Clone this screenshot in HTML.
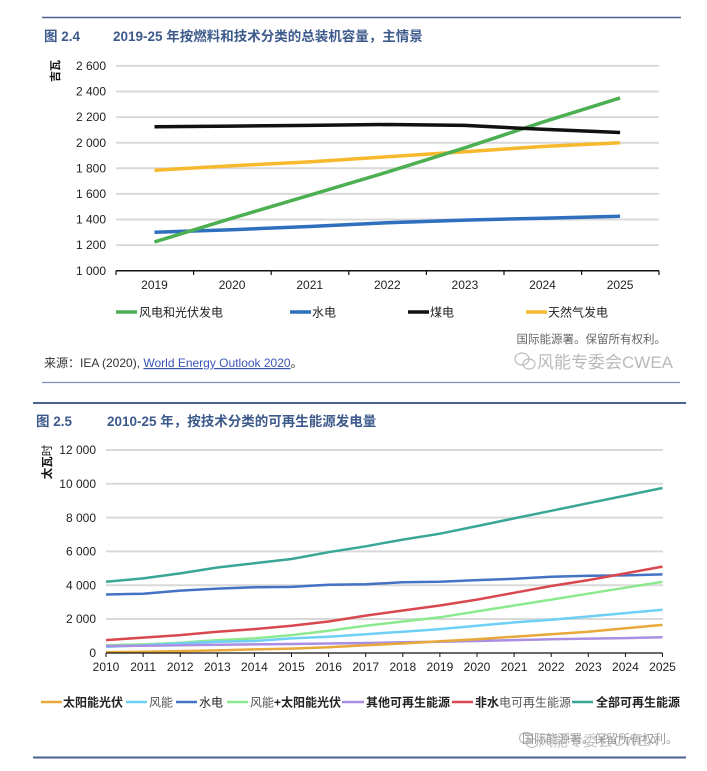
<!DOCTYPE html>
<html>
<head>
<meta charset="utf-8">
<style>
html,body{margin:0;padding:0;background:#fff;}
svg{display:block;}
.cj{font-family:"Liberation Sans","Noto Sans CJK SC",sans-serif;}
.num{font-family:"Liberation Sans",sans-serif;font-size:12px;fill:#222;}
</style>
</head>
<body>
<svg width="707" height="771" viewBox="0 0 707 771" xmlns="http://www.w3.org/2000/svg">
<rect width="707" height="771" fill="#fff"/>

<!-- ===== Chart 1 ===== -->
<line x1="42" y1="17.5" x2="681" y2="17.5" stroke="#4b6190" stroke-width="1.5"/>
<text class="cj" x="44" y="41" font-size="13.5" fill="#3d5a8c" font-weight="bold">图 2.4</text>
<text class="cj" x="113" y="41" font-size="13.5" fill="#3d5a8c" font-weight="bold">2019-25 年按燃料和技术分类的总装机容量，主情景</text>

<text class="cj" transform="translate(59,71) rotate(-90)" font-size="11" fill="#111" text-anchor="middle" font-weight="bold">吉瓦</text>

<g stroke="#d9d9d9" stroke-width="2">
<line x1="116" y1="65.9" x2="659" y2="65.9"/>
<line x1="116" y1="91.5" x2="659" y2="91.5"/>
<line x1="116" y1="117.1" x2="659" y2="117.1"/>
<line x1="116" y1="142.7" x2="659" y2="142.7"/>
<line x1="116" y1="168.3" x2="659" y2="168.3"/>
<line x1="116" y1="193.9" x2="659" y2="193.9"/>
<line x1="116" y1="219.5" x2="659" y2="219.5"/>
<line x1="116" y1="245.1" x2="659" y2="245.1"/>
</g>
<g class="num" text-anchor="end">
<text x="106" y="70">2 600</text>
<text x="106" y="95.6">2 400</text>
<text x="106" y="121.2">2 200</text>
<text x="106" y="146.8">2 000</text>
<text x="106" y="172.4">1 800</text>
<text x="106" y="198">1 600</text>
<text x="106" y="223.6">1 400</text>
<text x="106" y="249.2">1 200</text>
<text x="106" y="274.8">1 000</text>
</g>
<line x1="116" y1="270.7" x2="659" y2="270.7" stroke="#111" stroke-width="1.5"/>
<g stroke="#111" stroke-width="1.2">
<line x1="116" y1="270.7" x2="116" y2="275"/>
<line x1="193.6" y1="270.7" x2="193.6" y2="275"/>
<line x1="271.2" y1="270.7" x2="271.2" y2="275"/>
<line x1="348.8" y1="270.7" x2="348.8" y2="275"/>
<line x1="426.4" y1="270.7" x2="426.4" y2="275"/>
<line x1="504" y1="270.7" x2="504" y2="275"/>
<line x1="581.6" y1="270.7" x2="581.6" y2="275"/>
<line x1="659" y1="270.7" x2="659" y2="275"/>
</g>
<g class="num" text-anchor="middle">
<text x="154.5" y="289">2019</text>
<text x="232.1" y="289">2020</text>
<text x="309.7" y="289">2021</text>
<text x="387.3" y="289">2022</text>
<text x="464.9" y="289">2023</text>
<text x="542.5" y="289">2024</text>
<text x="620.1" y="289">2025</text>
</g>
<g fill="none" stroke-width="3.5" stroke-linejoin="round">
<polyline stroke="#f6b92e" points="154.5,170.2 232.1,165.7 309.7,161.9 387.3,156.8 464.9,151.7 542.5,146.5 620.1,142.7"/>
<polyline stroke="#2e6fbe" points="154.5,232.3 232.1,229.7 309.7,226.5 387.3,222.7 464.9,220.1 542.5,218.2 620.1,216.3"/>
<polyline stroke="#4caf52" points="154.5,241.9 232.1,218.2 309.7,195.2 387.3,172.1 464.9,147.8 542.5,122.2 620.1,97.9"/>
<polyline stroke="#111" points="154.5,126.7 232.1,126.1 309.7,125.4 387.3,124.5 464.9,125.4 542.5,129.3 620.1,132.5"/>
</g>

<!-- legend 1 -->
<g stroke-width="3.5">
<line x1="116" y1="312" x2="137" y2="312" stroke="#4caf52"/>
<line x1="290" y1="312" x2="311" y2="312" stroke="#2e6fbe"/>
<line x1="408" y1="312" x2="429" y2="312" stroke="#111"/>
<line x1="526" y1="312" x2="547" y2="312" stroke="#f6b92e"/>
</g>
<g class="cj" font-size="12" fill="#222">
<text x="139" y="316.5">风电和光伏发电</text>
<text x="312" y="316.5">水电</text>
<text x="430" y="316.5">煤电</text>
<text x="548" y="316.5">天然气发电</text>
</g>

<text class="cj" x="666" y="343" font-size="11.5" fill="#666" text-anchor="end">国际能源署。保留所有权利。</text>
<text class="cj" x="44" y="367" font-size="12" fill="#333">来源：IEA (2020), <tspan fill="#3a55b8" text-decoration="underline">World Energy Outlook 2020</tspan>。</text>

<!-- watermark 1 -->
<g fill="none" stroke="#bdbdbd" stroke-width="1.2">
<ellipse cx="522" cy="359" rx="7" ry="6"/>
<ellipse cx="529" cy="364" rx="6" ry="5"/>
</g>
<text class="cj" x="537" y="368" font-size="17" fill="#b9b9b9">风能专委会CWEA</text>

<line x1="42" y1="382.5" x2="680" y2="382.5" stroke="#7d8fbb" stroke-width="1.2"/>

<!-- ===== Chart 2 ===== -->
<line x1="33" y1="403" x2="686" y2="403" stroke="#4b6190" stroke-width="2"/>
<text class="cj" x="36" y="426" font-size="13.5" fill="#3d5a8c" font-weight="bold">图 2.5</text>
<text class="cj" x="107" y="426" font-size="13.5" fill="#3d5a8c" font-weight="bold">2010-25 年，按技术分类的可再生能源发电量</text>

<text class="cj" transform="translate(51,462) rotate(-90)" font-size="11.5" fill="#111" text-anchor="middle" font-weight="bold">太瓦<tspan font-weight="normal">时</tspan></text>

<g stroke="#d9d9d9" stroke-width="2">
<line x1="106" y1="450" x2="663" y2="450"/>
<line x1="106" y1="483.8" x2="663" y2="483.8"/>
<line x1="106" y1="517.6" x2="663" y2="517.6"/>
<line x1="106" y1="551.4" x2="663" y2="551.4"/>
<line x1="106" y1="585.2" x2="663" y2="585.2"/>
<line x1="106" y1="619" x2="663" y2="619"/>
</g>
<g class="num" text-anchor="end">
<text x="96" y="454.2">12 000</text>
<text x="96" y="488">10 000</text>
<text x="96" y="521.8">8 000</text>
<text x="96" y="555.6">6 000</text>
<text x="96" y="589.4">4 000</text>
<text x="96" y="623.2">2 000</text>
<text x="96" y="657">0</text>
</g>

<g fill="none" stroke-width="2.5" stroke-linejoin="round">
<polyline stroke="#3aa796" points="106,581.8 143.1,578.4 180.2,573.4 217.3,567.5 254.4,563.2 291.5,559 328.6,552.2 365.7,546.3 402.8,539.6 439.9,533.7 477,526.1 514.1,518.4 551.2,510.8 588.3,503.2 625.4,495.6 662.5,488"/>
<polyline stroke="#4472c4" points="106,594.5 143.1,593.7 180.2,590.6 217.3,588.6 254.4,587.2 291.5,586.9 328.6,584.7 365.7,584.3 402.8,582.3 439.9,581.8 477,580.1 514.1,578.8 551.2,576.8 588.3,575.7 625.4,575.4 662.5,574.4"/>
<polyline stroke="#d9474f" points="106,640.1 143.1,637.6 180.2,635.1 217.3,631.7 254.4,629.1 291.5,625.8 328.6,621.5 365.7,615.6 402.8,610.5 439.9,605.5 477,599.6 514.1,592.8 551.2,586 588.3,580.1 625.4,573.4 662.5,566.6"/>
<polyline stroke="#8de98f" points="106,645.2 143.1,644.4 180.2,642.7 217.3,640.1 254.4,638.4 291.5,635.1 328.6,630.8 365.7,625.8 402.8,621.5 439.9,617.3 477,611.4 514.1,605.5 551.2,599.6 588.3,593.7 625.4,587.7 662.5,581.8"/>
<polyline stroke="#6fcff4" points="106,646.9 143.1,645.2 180.2,643.5 217.3,641.8 254.4,641 291.5,638.4 328.6,636.7 365.7,634.2 402.8,631.7 439.9,629.1 477,625.8 514.1,622.4 551.2,619.8 588.3,616.5 625.4,613.1 662.5,609.7"/>
<polyline stroke="#a98ee2" points="106,646 143.1,645.7 180.2,645.2 217.3,644.7 254.4,644.4 291.5,644 328.6,643.5 365.7,643 402.8,642.3 439.9,641.8 477,641 514.1,640.1 551.2,639.3 588.3,638.6 625.4,638.1 662.5,637.3"/>
<polyline stroke="#e8a83a" points="106,652.3 143.1,651.8 180.2,651.1 217.3,650.4 254.4,649.4 291.5,648.6 328.6,647.2 365.7,645.2 402.8,643.5 439.9,641.3 477,639.3 514.1,636.7 551.2,634.2 588.3,631.7 625.4,628.3 662.5,624.9"/>
</g>

<line x1="106" y1="653" x2="662.5" y2="653" stroke="#111" stroke-width="1.3"/>
<g stroke="#111" stroke-width="1">
<line x1="106" y1="653" x2="106" y2="657"/><line x1="143.1" y1="653" x2="143.1" y2="657"/>
<line x1="180.2" y1="653" x2="180.2" y2="657"/><line x1="217.3" y1="653" x2="217.3" y2="657"/>
<line x1="254.4" y1="653" x2="254.4" y2="657"/><line x1="291.5" y1="653" x2="291.5" y2="657"/>
<line x1="328.6" y1="653" x2="328.6" y2="657"/><line x1="365.7" y1="653" x2="365.7" y2="657"/>
<line x1="402.8" y1="653" x2="402.8" y2="657"/><line x1="439.9" y1="653" x2="439.9" y2="657"/>
<line x1="477" y1="653" x2="477" y2="657"/><line x1="514.1" y1="653" x2="514.1" y2="657"/>
<line x1="551.2" y1="653" x2="551.2" y2="657"/><line x1="588.3" y1="653" x2="588.3" y2="657"/>
<line x1="625.4" y1="653" x2="625.4" y2="657"/><line x1="662.5" y1="653" x2="662.5" y2="657"/>
</g>
<g class="num" text-anchor="middle">
<text x="106" y="671">2010</text><text x="143.1" y="671">2011</text>
<text x="180.2" y="671">2012</text><text x="217.3" y="671">2013</text>
<text x="254.4" y="671">2014</text><text x="291.5" y="671">2015</text>
<text x="328.6" y="671">2016</text><text x="365.7" y="671">2017</text>
<text x="402.8" y="671">2018</text><text x="439.9" y="671">2019</text>
<text x="477" y="671">2020</text><text x="514.1" y="671">2021</text>
<text x="551.2" y="671">2022</text><text x="588.3" y="671">2023</text>
<text x="625.4" y="671">2024</text><text x="662.5" y="671">2025</text>
</g>

<!-- legend 2 -->
<g stroke-width="2.5">
<line x1="41" y1="702" x2="62" y2="702" stroke="#e8a83a"/>
<line x1="126" y1="702" x2="147" y2="702" stroke="#6fcff4"/>
<line x1="176" y1="702" x2="197" y2="702" stroke="#4472c4"/>
<line x1="227" y1="702" x2="248" y2="702" stroke="#8de98f"/>
<line x1="342" y1="702" x2="364" y2="702" stroke="#a98ee2"/>
<line x1="452" y1="702" x2="473" y2="702" stroke="#d9474f"/>
<line x1="572" y1="702" x2="593" y2="702" stroke="#3aa796"/>
</g>
<g class="cj" font-size="12" fill="#222">
<text x="63" y="706.5" font-weight="bold">太阳能光伏</text>
<text x="149" y="706.5" fill="#555">风能</text>
<text x="199" y="706.5">水电</text>
<text x="250" y="706.5"><tspan fill="#555">风能</tspan><tspan font-weight="bold">+太阳能光伏</tspan></text>
<text x="366" y="706.5" font-weight="bold">其他可再生能源</text>
<text x="475" y="706.5"><tspan font-weight="bold">非水</tspan><tspan fill="#555">电可再生能源</tspan></text>
<text x="596" y="706.5" font-weight="bold">全部可再生能源</text>
</g>

<!-- watermark 2 -->
<g fill="none" stroke="#bdbdbd" stroke-width="1.2">
<ellipse cx="526" cy="738" rx="6.5" ry="5.5"/>
<ellipse cx="532" cy="743" rx="5.5" ry="4.5"/>
</g>
<text class="cj" x="538" y="746" font-size="15" fill="#c2c2c2">风能专委会CWEA</text>
<text class="cj" x="678" y="743" font-size="12" fill="#999" text-anchor="end">国际能源署。保留所有权利。</text>

<line x1="33" y1="757.5" x2="686" y2="757.5" stroke="#4b6190" stroke-width="2"/>
</svg>
</body>
</html>
